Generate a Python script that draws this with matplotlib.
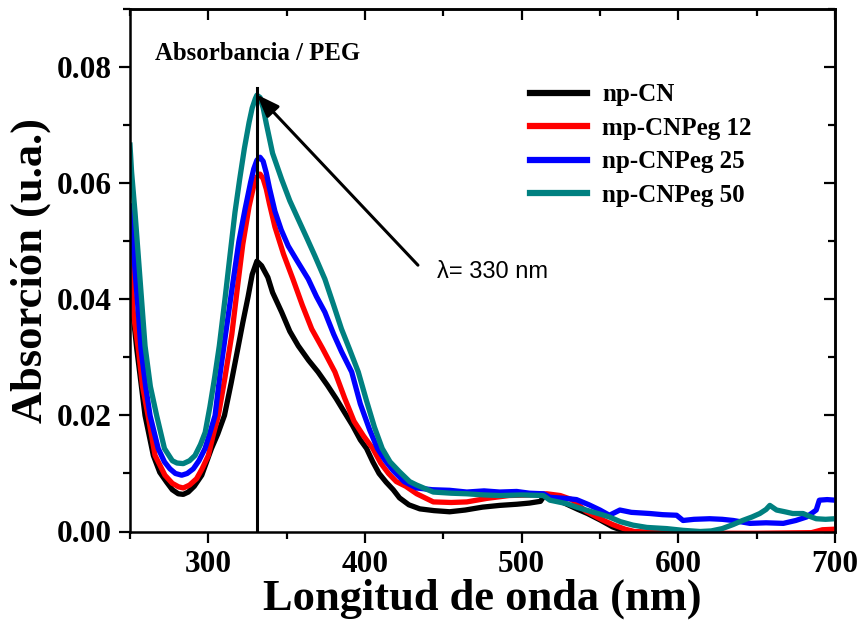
import matplotlib
matplotlib.use("Agg")
import matplotlib.pyplot as plt
from matplotlib.ticker import MultipleLocator, FormatStrFormatter

# np-CN (black)
wl_black = [250, 251, 254.3, 259.6, 264.9, 269, 273.4, 277, 280.8, 284, 287.2,
            291, 295.8, 302, 306, 310.3, 314.5, 318.8, 322, 325.4, 328, 331,
            334, 338, 341, 346.8, 352, 357.4, 364, 370, 376, 381.6, 387, 392,
            397, 401, 405, 409, 413.5, 418, 422, 428, 435, 444, 454, 464, 475,
            486, 497, 505, 512, 514, 520, 528, 536, 542, 550, 558, 566, 575,
            600, 650, 700]
abs_black = [0.042, 0.040, 0.0315, 0.020, 0.0131, 0.0102, 0.0085, 0.0072,
             0.0065, 0.0064, 0.0068, 0.0078, 0.0097, 0.0143, 0.0168, 0.020,
             0.0255, 0.0315, 0.0360, 0.0405, 0.0443, 0.0466, 0.0458, 0.0438,
             0.0412, 0.0378, 0.0345, 0.032, 0.0295, 0.0275, 0.0252, 0.0229,
             0.0205, 0.0183, 0.0158, 0.0143, 0.0120, 0.0100, 0.0085, 0.0072,
             0.0058, 0.0046, 0.0039, 0.0036, 0.0034, 0.0037, 0.0042, 0.0045,
             0.0047, 0.0049, 0.0052, 0.0060, 0.0058, 0.0048, 0.0038, 0.0031,
             0.0020, 0.0008, 0.0, -0.002, -0.003, -0.003, -0.003]

# mp-CNPeg 12 (red)
wl_red = [250, 252, 255.3, 258, 261.5, 266, 272.3, 277, 281, 284, 288, 292.5,
          296, 300, 303, 306.4, 310.6, 315, 319, 322, 326, 329, 331, 333, 335,
          337, 339, 342.5, 348, 354, 360, 366, 373, 380.8, 387, 393, 399, 405,
          410, 415, 420, 426, 433, 443.6, 455, 465, 477.6, 492, 505, 516,
          524.6, 532, 541, 550, 558, 566, 572, 600, 650, 685, 692, 700]
abs_red = [0.048, 0.0378, 0.0315, 0.025, 0.020, 0.0131, 0.0097, 0.0083,
           0.0077, 0.0075, 0.0080, 0.0091, 0.0108, 0.0131, 0.0165, 0.020,
           0.0265, 0.0340, 0.0430, 0.0495, 0.0560, 0.0596, 0.0611, 0.0616,
           0.0608, 0.0590, 0.0565, 0.0525, 0.0478, 0.0435, 0.039, 0.0349,
           0.0315, 0.0275, 0.0230, 0.0190, 0.0165, 0.0143, 0.0118, 0.0100,
           0.0086, 0.0078, 0.0065, 0.0051, 0.0050, 0.0051, 0.0057, 0.0062,
           0.0063, 0.0065, 0.0062, 0.0055, 0.0035, 0.0022, 0.0012, 0.0004,
           0.0, -0.0003, -0.0003, -0.0002, 0.0003, 0.0004]

# np-CNPeg 25 (blue)
wl_blue = [250, 252, 255.3, 257, 260, 262.8, 268, 272, 275.5, 279, 283, 286.5,
           290.4, 294, 297.9, 301, 304.3, 307.4, 311, 316, 319.5, 323.4, 327,
           329, 331, 333, 335, 337, 339, 342.5, 346.5, 351, 357, 363.8, 369,
           374.4, 380, 385, 391.5, 397, 403, 408, 413, 418, 425, 433, 443, 454,
           465, 476, 486, 496.8, 505, 514, 518, 528, 535, 543, 550, 556, 562.7,
           570, 581.8, 590, 598.9, 603, 610, 620, 628, 635, 645.7, 656, 667,
           675, 681.8, 686, 688, 690, 695, 700]
abs_blue = [0.0561, 0.0492, 0.0378, 0.0315, 0.025, 0.020, 0.0143, 0.0120,
            0.0108, 0.0100, 0.0097, 0.0100, 0.0108, 0.0122, 0.0143, 0.0170,
            0.020, 0.0270, 0.0340, 0.0435, 0.0500, 0.0555, 0.0602, 0.0625,
            0.0640, 0.0645, 0.0638, 0.0618, 0.0592, 0.0552, 0.0520, 0.0492,
            0.0465, 0.0435, 0.0405, 0.0378, 0.0340, 0.0310, 0.0275, 0.0220,
            0.0175, 0.0143, 0.0122, 0.0105, 0.0086, 0.0075, 0.0072, 0.0071,
            0.0068, 0.0070, 0.0068, 0.0069, 0.0066, 0.0065, 0.0059, 0.0057,
            0.0055, 0.0046, 0.0037, 0.0028, 0.0037, 0.0033, 0.0031, 0.0029,
            0.0028, 0.0019, 0.0021, 0.0022, 0.0021, 0.0019, 0.0014, 0.0015,
            0.0014, 0.0019, 0.0025, 0.0033, 0.0037, 0.0054, 0.0055, 0.0054]

# np-CNPeg 50 (teal)
wl_teal = [250, 251, 253.2, 256.4, 259.6, 263, 267, 272, 277, 280, 284, 288,
           291.5, 295, 298, 301, 304, 307, 310.6, 314, 317, 320, 323, 326,
           328, 330, 331, 333, 335, 337, 341, 346.8, 352, 357.4, 363, 368,
           374.4, 380, 385, 390, 395.7, 401, 406, 411, 416, 422, 428.5, 433,
           443.6, 455, 465, 476, 486, 500, 513.8, 518, 528.7, 535, 543.6, 550,
           556, 563, 571, 580, 592.5, 603, 614, 621, 628, 635, 641, 647, 652,
           656, 658.4, 662.7, 668, 673, 679.6, 684, 688, 694, 700]
abs_teal = [0.0666, 0.062, 0.055, 0.0435, 0.032, 0.025, 0.020, 0.0143, 0.0122,
            0.0118, 0.0117, 0.0122, 0.0131, 0.0150, 0.0171, 0.0215, 0.0265,
            0.0320, 0.0400, 0.0480, 0.0550, 0.0607, 0.0660, 0.0705, 0.0730,
            0.0746, 0.0752, 0.0748, 0.0730, 0.0703, 0.0652, 0.0607, 0.0570,
            0.0538, 0.0505, 0.0475, 0.0435, 0.0390, 0.0349, 0.0315, 0.0275,
            0.0225, 0.0180, 0.0143, 0.0120, 0.0103, 0.0086, 0.0080, 0.0068,
            0.0066, 0.0065, 0.0063, 0.0062, 0.0063, 0.0062, 0.0054, 0.0048,
            0.0042, 0.0035, 0.0030, 0.0025, 0.0017, 0.0011, 0.0007, 0.0005,
            0.0002, 0.0, 0.0001, 0.0005, 0.0012, 0.0019, 0.0025, 0.0031,
            0.0038, 0.0045, 0.0037, 0.0034, 0.0031, 0.0031, 0.0026, 0.0022,
            0.0021, 0.0022]

series_labels = ["np-CN", "mp-CNPeg 12", "np-CNPeg 25", "np-CNPeg 50"]
series_colors = ["#000000", "#ff0000", "#0000ff", "#008080"]

peak_wl = 331
peak_line_top = 0.0765
arrow_tip = (331, 0.0753)
arrow_tail = (433.8, 0.0459)

serif = ["Liberation Serif", "DejaVu Serif"]

fig = plt.figure(figsize=(8.62, 6.22), dpi=100)
ax = fig.add_axes([130 / 862, 1 - 531.5 / 622, 705 / 862, 522.2 / 622])

curves = [(wl_black, abs_black), (wl_red, abs_red),
          (wl_blue, abs_blue), (wl_teal, abs_teal)]
for (wl, ab), lab, col in zip(curves, series_labels, series_colors):
    ax.plot(wl, ab, color=col, lw=3.8, label=lab, solid_joinstyle="round")

# vertical marker at the band maximum
ax.plot([peak_wl, peak_wl], [0, peak_line_top], color="black", lw=2.2)
ax.annotate("", xy=arrow_tip, xytext=arrow_tail,
            arrowprops=dict(arrowstyle="-|>,head_length=0.8,head_width=0.3",
                            color="black", lw=2.2, mutation_scale=17,
                            shrinkA=0, shrinkB=0))
ax.text(arrow_tail[0] + 12, arrow_tail[1] - 0.0011, "λ= 330 nm",
        fontsize=17, family=["Liberation Sans", "DejaVu Sans"],
        ha="left", va="center")

ax.text(0.036, 0.915, "Absorbancia / PEG", transform=ax.transAxes,
        fontsize=17.8, fontweight="bold", family=serif, va="center")

ax.set_xlim(250, 700)
ax.set_ylim(0, 0.09)
ax.xaxis.set_major_locator(MultipleLocator(100))
ax.xaxis.set_minor_locator(MultipleLocator(50))
ax.yaxis.set_major_locator(MultipleLocator(0.02))
ax.yaxis.set_minor_locator(MultipleLocator(0.01))
ax.yaxis.set_major_formatter(FormatStrFormatter("%.2f"))

ax.tick_params(which="major", direction="out", length=8, width=1.6,
               labelsize=22.5, pad=5, top=False, right=False)
ax.tick_params(which="minor", direction="out", length=5, width=1.6,
               top=False, right=False)
for lab in ax.get_xticklabels() + ax.get_yticklabels():
    lab.set_family(serif)
    lab.set_fontweight("bold")

# mirrored ticks on top and right point inwards
top = ax.secondary_xaxis("top")
top.xaxis.set_major_locator(MultipleLocator(100))
top.xaxis.set_minor_locator(MultipleLocator(50))
top.tick_params(which="major", direction="in", length=8, width=1.6,
                labeltop=False)
top.tick_params(which="minor", direction="in", length=5, width=1.6)
right = ax.secondary_yaxis("right")
right.yaxis.set_major_locator(MultipleLocator(0.02))
right.yaxis.set_minor_locator(MultipleLocator(0.01))
right.tick_params(which="major", direction="in", length=8, width=1.6,
                  labelright=False)
right.tick_params(which="minor", direction="in", length=5, width=1.6)

for s in list(ax.spines.values()) + [top.spines["top"], right.spines["right"]]:
    s.set_linewidth(1.8)

ax.set_xlabel("Longitud de onda (nm)", fontsize=32, fontweight="bold",
              family=serif, labelpad=0)
ax.set_ylabel("Absorción (u.a.)", fontsize=32, fontweight="bold",
              family=serif, labelpad=4)

leg = ax.legend(loc="upper left", bbox_to_anchor=(0.567, 0.858),
                frameon=False, borderpad=0, borderaxespad=0,
                handlelength=2.3, handletextpad=0.6, labelspacing=0.42,
                prop=dict(family=serif, weight="bold", size=18))
for h in leg.get_lines():
    h.set_linewidth(4.5)

fig.savefig("out.png", dpi=100)
